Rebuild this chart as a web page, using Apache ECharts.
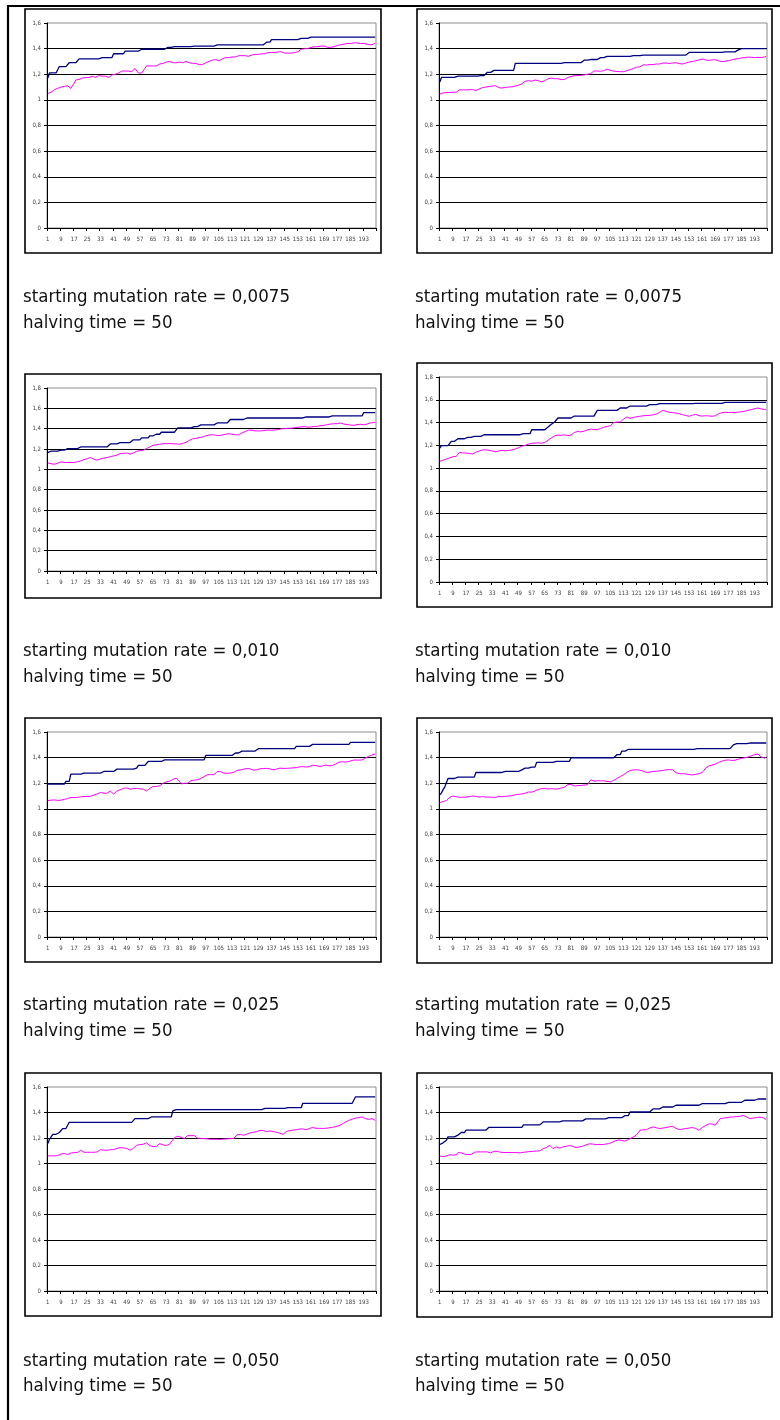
<!DOCTYPE html>
<html>
<head>
<meta charset="utf-8">
<script src="https://cdn.jsdelivr.net/npm/echarts@6/dist/echarts.min.js"></script>
<style>
  html, body { margin: 0; padding: 0; background: #fff; }
  #chart { width: 780px; height: 1420px; }
</style>
</head>
<body>
<div id="chart"></div>
<script>
// Generations 1..200 (category axis)
const generations = Array.from({ length: 200 }, (_, i) => String(i + 1));

// Panel titles
const mutationRates = ['0,0075', '0,0075', '0,010', '0,010', '0,025', '0,025', '0,050', '0,050'];
const halvingTimes = ['50', '50', '50', '50', '50', '50', '50', '50'];
const yAxisMax = [1.6, 1.6, 1.8, 1.8, 1.6, 1.6, 1.6, 1.6];

// Best fitness per generation (navy step line)
const best1 = [
1.17,1.21,1.21,1.21,1.21,1.21,1.21,1.26,1.26,1.26,
1.26,1.26,1.26,1.29,1.29,1.29,1.29,1.29,1.29,1.32,
1.32,1.32,1.32,1.32,1.32,1.32,1.32,1.32,1.32,1.32,
1.32,1.32,1.33,1.33,1.33,1.33,1.33,1.33,1.33,1.33,
1.36,1.36,1.36,1.36,1.36,1.36,1.36,1.38,1.38,1.38,
1.38,1.38,1.38,1.38,1.38,1.38,1.395,1.395,1.395,1.395,
1.395,1.395,1.395,1.395,1.395,1.395,1.395,1.395,1.395,1.395,
1.395,1.395,1.41,1.41,1.41,1.41,1.41,1.415,1.415,1.415,
1.415,1.415,1.415,1.415,1.415,1.415,1.415,1.415,1.415,1.42,
1.42,1.42,1.42,1.42,1.42,1.42,1.42,1.42,1.42,1.42,
1.42,1.42,1.43,1.43,1.43,1.43,1.43,1.43,1.43,1.43,
1.43,1.43,1.43,1.43,1.43,1.43,1.43,1.43,1.43,1.43,
1.43,1.43,1.43,1.43,1.43,1.43,1.43,1.43,1.43,1.43,
1.43,1.43,1.43,1.45,1.45,1.45,1.47,1.47,1.47,1.47,
1.47,1.47,1.47,1.47,1.47,1.47,1.47,1.47,1.47,1.47,
1.47,1.47,1.47,1.47,1.48,1.48,1.48,1.48,1.48,1.49,
1.49,1.49,1.49,1.49,1.49,1.49,1.49,1.49,1.49,1.49,
1.49,1.49,1.49,1.49,1.49,1.49,1.49,1.49,1.49,1.49,
1.49,1.49,1.49,1.49,1.49,1.49,1.49,1.49,1.49,1.49,
1.49,1.49,1.49,1.49,1.49,1.49,1.49,1.49,1.49,1.49];

const best2 = [
1.14,1.175,1.175,1.175,1.175,1.175,1.175,1.175,1.175,1.175,
1.175,1.185,1.185,1.185,1.185,1.185,1.185,1.185,1.185,1.185,
1.185,1.185,1.185,1.185,1.19,1.19,1.19,1.19,1.19,1.215,
1.215,1.215,1.23,1.23,1.23,1.23,1.23,1.23,1.23,1.23,
1.23,1.23,1.23,1.23,1.23,1.23,1.285,1.285,1.285,1.285,
1.285,1.285,1.285,1.285,1.285,1.285,1.285,1.285,1.285,1.285,
1.285,1.285,1.285,1.285,1.285,1.285,1.285,1.285,1.285,1.285,
1.285,1.285,1.285,1.285,1.285,1.285,1.29,1.29,1.29,1.29,
1.29,1.29,1.29,1.29,1.29,1.29,1.29,1.29,1.31,1.31,
1.31,1.31,1.315,1.315,1.315,1.315,1.315,1.315,1.33,1.33,
1.33,1.34,1.34,1.34,1.34,1.34,1.34,1.34,1.34,1.34,
1.34,1.34,1.34,1.34,1.34,1.34,1.34,1.34,1.345,1.345,
1.345,1.345,1.345,1.345,1.35,1.35,1.35,1.35,1.35,1.35,
1.35,1.35,1.35,1.35,1.35,1.35,1.35,1.35,1.35,1.35,
1.35,1.35,1.35,1.35,1.35,1.35,1.35,1.35,1.35,1.35,
1.35,1.35,1.37,1.37,1.37,1.37,1.37,1.37,1.37,1.37,
1.37,1.37,1.37,1.37,1.37,1.37,1.37,1.37,1.37,1.37,
1.37,1.37,1.37,1.375,1.375,1.375,1.375,1.375,1.375,1.375,
1.375,1.39,1.39,1.40,1.40,1.40,1.40,1.40,1.40,1.40,
1.40,1.40,1.40,1.40,1.40,1.40,1.40,1.40,1.40,1.40];

const best3 = [
1.165,1.18,1.18,1.18,1.18,1.18,1.18,1.18,1.188,1.188,
1.188,1.188,1.204,1.204,1.204,1.204,1.204,1.204,1.204,1.22,
1.22,1.22,1.22,1.22,1.22,1.22,1.22,1.22,1.22,1.22,
1.22,1.22,1.22,1.22,1.22,1.22,1.22,1.22,1.25,1.25,
1.25,1.25,1.25,1.25,1.263,1.263,1.263,1.263,1.263,1.263,
1.263,1.263,1.29,1.29,1.29,1.29,1.29,1.31,1.31,1.31,
1.31,1.31,1.33,1.33,1.33,1.33,1.345,1.345,1.345,1.365,
1.365,1.365,1.365,1.365,1.365,1.365,1.365,1.365,1.365,1.407,
1.407,1.407,1.407,1.407,1.407,1.407,1.407,1.407,1.407,1.42,
1.42,1.42,1.42,1.437,1.437,1.437,1.437,1.437,1.437,1.437,
1.437,1.437,1.437,1.456,1.456,1.456,1.456,1.456,1.456,1.456,
1.456,1.49,1.49,1.49,1.49,1.49,1.49,1.49,1.49,1.49,
1.505,1.505,1.505,1.505,1.505,1.505,1.505,1.505,1.505,1.505,
1.505,1.505,1.505,1.505,1.505,1.505,1.505,1.505,1.505,1.505,
1.505,1.505,1.505,1.505,1.505,1.505,1.505,1.505,1.505,1.505,
1.505,1.505,1.505,1.505,1.505,1.505,1.505,1.515,1.515,1.515,
1.515,1.515,1.515,1.515,1.515,1.515,1.515,1.515,1.515,1.515,
1.515,1.515,1.525,1.525,1.525,1.525,1.525,1.525,1.525,1.525,
1.525,1.525,1.525,1.525,1.525,1.525,1.525,1.525,1.525,1.525,
1.525,1.525,1.557,1.557,1.557,1.557,1.557,1.557,1.557,1.557];

const best4 = [
1.176,1.197,1.197,1.197,1.197,1.197,1.197,1.235,1.235,1.235,
1.235,1.258,1.258,1.258,1.258,1.258,1.27,1.27,1.27,1.27,
1.27,1.279,1.279,1.279,1.279,1.279,1.293,1.293,1.293,1.293,
1.293,1.293,1.293,1.293,1.293,1.293,1.293,1.293,1.293,1.293,
1.293,1.293,1.293,1.293,1.293,1.293,1.293,1.293,1.293,1.293,
1.302,1.302,1.302,1.302,1.302,1.302,1.337,1.337,1.337,1.337,
1.337,1.337,1.337,1.337,1.337,1.35,1.36,1.375,1.385,1.395,
1.405,1.41,1.44,1.44,1.44,1.44,1.44,1.44,1.44,1.44,
1.44,1.457,1.457,1.457,1.457,1.457,1.457,1.457,1.457,1.457,
1.457,1.457,1.457,1.457,1.457,1.457,1.507,1.507,1.507,1.507,
1.507,1.507,1.507,1.507,1.507,1.507,1.507,1.507,1.507,1.507,
1.528,1.528,1.528,1.528,1.528,1.528,1.545,1.545,1.545,1.545,
1.545,1.545,1.545,1.545,1.545,1.545,1.545,1.557,1.557,1.557,
1.557,1.557,1.557,1.566,1.566,1.566,1.566,1.566,1.566,1.566,
1.566,1.566,1.566,1.566,1.566,1.566,1.566,1.566,1.566,1.566,
1.566,1.566,1.566,1.566,1.566,1.566,1.569,1.569,1.569,1.569,
1.569,1.569,1.569,1.569,1.569,1.569,1.569,1.569,1.569,1.569,
1.569,1.569,1.569,1.577,1.577,1.577,1.577,1.577,1.577,1.577,
1.577,1.577,1.577,1.577,1.577,1.577,1.577,1.577,1.577,1.577,
1.577,1.577,1.577,1.577,1.577,1.577,1.577,1.577,1.577,1.577];

const best5 = [
1.193,1.193,1.193,1.193,1.193,1.193,1.193,1.193,1.193,1.193,
1.193,1.214,1.214,1.214,1.271,1.271,1.271,1.271,1.271,1.271,
1.271,1.279,1.279,1.279,1.279,1.279,1.279,1.279,1.279,1.279,
1.279,1.279,1.279,1.279,1.292,1.292,1.292,1.292,1.292,1.292,
1.292,1.292,1.31,1.31,1.31,1.31,1.31,1.31,1.31,1.31,
1.31,1.31,1.31,1.318,1.318,1.339,1.339,1.339,1.339,1.339,
1.339,1.37,1.37,1.37,1.37,1.37,1.37,1.37,1.37,1.37,
1.383,1.383,1.383,1.383,1.383,1.383,1.383,1.383,1.383,1.383,
1.383,1.383,1.383,1.383,1.383,1.383,1.383,1.383,1.383,1.383,
1.383,1.383,1.383,1.383,1.383,1.383,1.417,1.417,1.417,1.417,
1.417,1.417,1.417,1.417,1.417,1.417,1.417,1.417,1.417,1.417,
1.417,1.417,1.417,1.417,1.436,1.436,1.436,1.451,1.451,1.451,
1.451,1.451,1.451,1.451,1.451,1.451,1.451,1.451,1.47,1.47,
1.47,1.47,1.47,1.47,1.47,1.47,1.47,1.47,1.47,1.47,
1.47,1.47,1.47,1.47,1.47,1.47,1.47,1.47,1.47,1.47,
1.47,1.488,1.488,1.488,1.488,1.488,1.488,1.488,1.488,1.488,
1.488,1.503,1.503,1.503,1.503,1.503,1.503,1.503,1.503,1.503,
1.503,1.503,1.503,1.503,1.503,1.503,1.503,1.503,1.503,1.503,
1.503,1.503,1.503,1.503,1.519,1.519,1.519,1.519,1.519,1.519,
1.519,1.519,1.519,1.519,1.519,1.519,1.519,1.519,1.519,1.519];

const best6 = [
1.109,1.125,1.15,1.17,1.18,1.237,1.237,1.237,1.237,1.237,
1.248,1.248,1.248,1.248,1.248,1.248,1.248,1.248,1.248,1.248,
1.248,1.248,1.284,1.284,1.284,1.284,1.284,1.284,1.284,1.284,
1.284,1.284,1.284,1.284,1.284,1.284,1.284,1.284,1.284,1.292,
1.292,1.292,1.292,1.292,1.292,1.292,1.292,1.292,1.292,1.305,
1.305,1.318,1.318,1.318,1.318,1.326,1.326,1.326,1.326,1.363,
1.363,1.363,1.363,1.363,1.363,1.363,1.363,1.363,1.363,1.363,
1.37,1.37,1.37,1.37,1.37,1.37,1.37,1.37,1.37,1.37,
1.399,1.399,1.399,1.399,1.399,1.399,1.399,1.399,1.399,1.399,
1.399,1.399,1.399,1.399,1.399,1.399,1.399,1.399,1.399,1.399,
1.399,1.399,1.399,1.399,1.399,1.399,1.399,1.399,1.423,1.423,
1.423,1.451,1.451,1.451,1.451,1.465,1.465,1.465,1.465,1.465,
1.465,1.465,1.465,1.465,1.465,1.465,1.465,1.465,1.465,1.465,
1.465,1.465,1.465,1.465,1.465,1.465,1.465,1.465,1.465,1.465,
1.465,1.465,1.465,1.465,1.465,1.465,1.465,1.465,1.465,1.465,
1.465,1.465,1.465,1.465,1.465,1.465,1.47,1.47,1.47,1.47,
1.47,1.47,1.47,1.47,1.47,1.47,1.47,1.47,1.47,1.47,
1.47,1.47,1.47,1.47,1.47,1.47,1.47,1.47,1.47,1.50,
1.509,1.509,1.509,1.509,1.509,1.509,1.509,1.509,1.509,1.514,
1.514,1.514,1.514,1.514,1.514,1.514,1.514,1.514,1.514,1.514];

const best7 = [
1.156,1.19,1.203,1.229,1.229,1.229,1.229,1.243,1.243,1.274,
1.274,1.274,1.274,1.323,1.323,1.323,1.323,1.323,1.323,1.323,
1.323,1.323,1.323,1.323,1.323,1.323,1.323,1.323,1.323,1.323,
1.323,1.323,1.323,1.323,1.323,1.323,1.323,1.323,1.323,1.323,
1.323,1.323,1.323,1.323,1.323,1.323,1.323,1.323,1.323,1.323,
1.323,1.323,1.323,1.352,1.352,1.352,1.352,1.352,1.352,1.352,
1.352,1.352,1.365,1.365,1.365,1.365,1.365,1.365,1.365,1.365,
1.365,1.365,1.365,1.365,1.365,1.365,1.412,1.412,1.423,1.423,
1.423,1.423,1.423,1.423,1.423,1.423,1.423,1.423,1.423,1.423,
1.423,1.423,1.423,1.423,1.423,1.423,1.423,1.423,1.423,1.423,
1.423,1.423,1.423,1.423,1.423,1.423,1.423,1.423,1.423,1.423,
1.423,1.423,1.423,1.423,1.423,1.423,1.423,1.423,1.423,1.423,
1.423,1.423,1.423,1.423,1.423,1.423,1.423,1.423,1.423,1.423,
1.423,1.433,1.433,1.433,1.433,1.433,1.433,1.433,1.433,1.433,
1.433,1.433,1.433,1.433,1.433,1.433,1.438,1.438,1.438,1.438,
1.438,1.438,1.438,1.438,1.438,1.472,1.472,1.472,1.472,1.472,
1.472,1.472,1.472,1.472,1.472,1.472,1.472,1.472,1.472,1.472,
1.472,1.472,1.472,1.472,1.472,1.472,1.472,1.472,1.472,1.472,
1.472,1.472,1.472,1.472,1.472,1.472,1.472,1.522,1.522,1.522,
1.522,1.522,1.522,1.522,1.522,1.522,1.522,1.522,1.522,1.522];

const best8 = [
1.149,1.155,1.162,1.17,1.182,1.209,1.209,1.209,1.209,1.209,
1.222,1.222,1.222,1.243,1.243,1.243,1.261,1.261,1.261,1.261,
1.261,1.261,1.261,1.261,1.261,1.261,1.261,1.261,1.261,1.261,
1.284,1.284,1.284,1.284,1.284,1.284,1.284,1.284,1.284,1.284,
1.284,1.284,1.284,1.284,1.284,1.284,1.284,1.284,1.284,1.284,
1.284,1.303,1.303,1.303,1.303,1.303,1.303,1.303,1.303,1.303,
1.303,1.303,1.303,1.326,1.326,1.326,1.326,1.326,1.326,1.326,
1.326,1.326,1.326,1.326,1.326,1.334,1.334,1.334,1.334,1.334,
1.334,1.334,1.334,1.334,1.334,1.334,1.334,1.334,1.334,1.35,
1.35,1.35,1.35,1.35,1.35,1.35,1.35,1.35,1.35,1.35,
1.35,1.35,1.36,1.36,1.36,1.36,1.36,1.36,1.36,1.36,
1.36,1.36,1.36,1.376,1.376,1.376,1.404,1.404,1.404,1.404,
1.404,1.404,1.404,1.404,1.404,1.404,1.404,1.404,1.404,1.404,
1.428,1.428,1.428,1.428,1.428,1.428,1.443,1.443,1.443,1.443,
1.443,1.443,1.443,1.443,1.457,1.457,1.457,1.457,1.457,1.457,
1.457,1.457,1.457,1.457,1.457,1.457,1.457,1.457,1.457,1.47,
1.47,1.47,1.47,1.47,1.47,1.47,1.47,1.47,1.47,1.47,
1.47,1.47,1.47,1.47,1.47,1.47,1.48,1.48,1.48,1.48,
1.48,1.48,1.48,1.48,1.48,1.48,1.496,1.496,1.496,1.496,
1.496,1.496,1.496,1.506,1.506,1.506,1.506,1.506,1.506,1.506];

// Average fitness per generation (magenta line)
const avg1 = [
1.05,1.055,1.06,1.07,1.08,1.085,1.09,1.095,1.10,1.105,
1.105,1.11,1.11,1.10,1.09,1.10,1.13,1.155,1.15,1.16,
1.165,1.17,1.165,1.175,1.18,1.175,1.18,1.185,1.18,1.175,
1.185,1.19,1.19,1.185,1.18,1.185,1.18,1.175,1.19,1.195,
1.20,1.20,1.205,1.21,1.22,1.225,1.22,1.225,1.23,1.225,
1.23,1.22,1.23,1.245,1.235,1.21,1.215,1.21,1.22,1.245,
1.265,1.26,1.265,1.26,1.265,1.27,1.265,1.275,1.28,1.28,
1.285,1.29,1.295,1.295,1.30,1.295,1.29,1.285,1.29,1.29,
1.295,1.295,1.29,1.295,1.30,1.295,1.29,1.29,1.285,1.29,
1.285,1.28,1.275,1.27,1.275,1.28,1.29,1.30,1.30,1.305,
1.31,1.31,1.315,1.31,1.305,1.32,1.32,1.325,1.33,1.335,
1.33,1.325,1.335,1.34,1.335,1.34,1.345,1.34,1.345,1.35,
1.345,1.345,1.34,1.345,1.35,1.35,1.355,1.36,1.355,1.365,
1.36,1.365,1.36,1.365,1.37,1.365,1.37,1.375,1.37,1.375,
1.375,1.37,1.375,1.37,1.365,1.36,1.365,1.36,1.365,1.37,
1.37,1.365,1.375,1.385,1.395,1.395,1.40,1.40,1.40,1.405,
1.41,1.405,1.415,1.41,1.415,1.42,1.42,1.415,1.42,1.41,
1.41,1.405,1.41,1.415,1.415,1.42,1.425,1.43,1.43,1.435,
1.435,1.44,1.44,1.435,1.44,1.445,1.445,1.44,1.445,1.44,
1.44,1.445,1.44,1.44,1.435,1.435,1.43,1.425,1.435,1.445];

const avg2 = [
1.045,1.05,1.055,1.055,1.057,1.06,1.058,1.06,1.06,1.062,
1.06,1.065,1.078,1.075,1.078,1.08,1.078,1.08,1.08,1.082,
1.08,1.078,1.073,1.08,1.085,1.09,1.096,1.095,1.10,1.098,
1.104,1.105,1.108,1.11,1.11,1.10,1.095,1.09,1.092,1.095,
1.098,1.10,1.10,1.10,1.102,1.105,1.108,1.11,1.115,1.12,
1.125,1.13,1.145,1.156,1.15,1.143,1.145,1.15,1.155,1.156,
1.15,1.145,1.14,1.14,1.15,1.16,1.165,1.17,1.17,1.168,
1.165,1.164,1.165,1.16,1.158,1.156,1.16,1.168,1.175,1.18,
1.183,1.185,1.188,1.19,1.19,1.188,1.192,1.195,1.195,1.198,
1.20,1.20,1.205,1.215,1.226,1.222,1.225,1.226,1.224,1.226,
1.228,1.235,1.24,1.236,1.23,1.226,1.224,1.222,1.222,1.22,
1.22,1.218,1.22,1.222,1.228,1.232,1.235,1.24,1.245,1.25,
1.255,1.262,1.258,1.268,1.274,1.27,1.272,1.276,1.276,1.278,
1.275,1.278,1.28,1.282,1.28,1.284,1.287,1.285,1.288,1.285,
1.284,1.286,1.288,1.29,1.29,1.286,1.283,1.28,1.28,1.282,
1.288,1.292,1.295,1.298,1.30,1.302,1.305,1.31,1.312,1.315,
1.318,1.318,1.312,1.308,1.308,1.31,1.312,1.315,1.313,1.31,
1.305,1.30,1.298,1.30,1.302,1.304,1.306,1.308,1.312,1.315,
1.318,1.32,1.322,1.325,1.328,1.33,1.33,1.332,1.334,1.334,
1.332,1.33,1.33,1.335,1.332,1.33,1.33,1.328,1.335,1.34];

const avg3 = [
1.063,1.06,1.055,1.05,1.05,1.055,1.06,1.068,1.073,1.07,
1.068,1.07,1.067,1.07,1.068,1.066,1.067,1.07,1.075,1.08,
1.083,1.088,1.095,1.10,1.106,1.11,1.116,1.11,1.10,1.095,
1.09,1.095,1.103,1.105,1.11,1.112,1.116,1.12,1.125,1.128,
1.132,1.13,1.14,1.15,1.155,1.155,1.158,1.16,1.16,1.155,
1.15,1.145,1.16,1.17,1.178,1.18,1.183,1.185,1.188,1.195,
1.204,1.212,1.22,1.228,1.237,1.24,1.242,1.245,1.247,1.25,
1.252,1.25,1.253,1.255,1.253,1.25,1.252,1.253,1.25,1.248,
1.247,1.25,1.255,1.262,1.266,1.275,1.285,1.292,1.30,1.302,
1.305,1.308,1.312,1.315,1.318,1.322,1.33,1.335,1.338,1.34,
1.34,1.338,1.335,1.332,1.332,1.335,1.338,1.342,1.345,1.348,
1.35,1.348,1.345,1.35,1.34,1.338,1.34,1.35,1.358,1.365,
1.372,1.378,1.385,1.39,1.385,1.38,1.378,1.375,1.378,1.38,
1.378,1.38,1.384,1.382,1.386,1.38,1.384,1.382,1.388,1.385,
1.39,1.395,1.40,1.405,1.40,1.402,1.404,1.406,1.404,1.408,
1.41,1.412,1.413,1.415,1.418,1.417,1.42,1.418,1.415,1.418,
1.417,1.42,1.422,1.42,1.423,1.426,1.43,1.432,1.433,1.436,
1.44,1.442,1.446,1.445,1.448,1.45,1.45,1.452,1.456,1.45,
1.445,1.442,1.44,1.438,1.435,1.434,1.433,1.436,1.44,1.442,
1.443,1.44,1.438,1.443,1.445,1.448,1.456,1.458,1.46,1.463];

const avg4 = [
1.06,1.065,1.07,1.075,1.08,1.085,1.09,1.095,1.10,1.103,
1.103,1.12,1.138,1.135,1.133,1.135,1.133,1.132,1.128,1.125,
1.124,1.13,1.14,1.147,1.15,1.155,1.16,1.162,1.16,1.158,
1.156,1.156,1.15,1.146,1.144,1.148,1.152,1.156,1.155,1.153,
1.152,1.153,1.155,1.158,1.16,1.162,1.168,1.174,1.18,1.186,
1.192,1.197,1.2,1.205,1.21,1.215,1.218,1.218,1.22,1.22,
1.222,1.22,1.218,1.22,1.225,1.235,1.245,1.255,1.265,1.275,
1.283,1.288,1.29,1.29,1.288,1.29,1.292,1.288,1.285,1.285,
1.29,1.30,1.312,1.323,1.322,1.32,1.318,1.32,1.325,1.33,
1.335,1.34,1.343,1.34,1.338,1.337,1.337,1.342,1.348,1.355,
1.358,1.362,1.366,1.37,1.372,1.385,1.40,1.402,1.404,1.405,
1.405,1.415,1.43,1.44,1.449,1.442,1.437,1.44,1.445,1.448,
1.451,1.452,1.455,1.458,1.46,1.46,1.462,1.46,1.463,1.465,
1.468,1.47,1.475,1.48,1.49,1.50,1.507,1.502,1.498,1.494,
1.49,1.488,1.487,1.485,1.484,1.48,1.477,1.473,1.469,1.466,
1.462,1.458,1.455,1.46,1.465,1.47,1.472,1.468,1.46,1.455,
1.457,1.46,1.46,1.46,1.458,1.457,1.455,1.455,1.46,1.47,
1.478,1.484,1.486,1.488,1.49,1.49,1.488,1.49,1.49,1.49,
1.488,1.49,1.492,1.493,1.495,1.498,1.50,1.504,1.507,1.51,
1.515,1.519,1.522,1.53,1.528,1.524,1.519,1.516,1.515,1.513];

const avg5 = [
1.065,1.066,1.068,1.07,1.07,1.068,1.066,1.068,1.068,1.07,
1.074,1.076,1.08,1.085,1.09,1.09,1.088,1.09,1.09,1.092,
1.094,1.095,1.096,1.095,1.097,1.098,1.099,1.102,1.108,1.112,
1.117,1.122,1.128,1.125,1.122,1.12,1.122,1.13,1.14,1.128,
1.115,1.125,1.14,1.145,1.149,1.155,1.16,1.167,1.164,1.158,
1.154,1.156,1.158,1.16,1.16,1.158,1.156,1.155,1.154,1.145,
1.14,1.15,1.16,1.17,1.175,1.176,1.175,1.178,1.18,1.19,
1.20,1.209,1.21,1.212,1.216,1.219,1.23,1.24,1.24,1.235,
1.215,1.195,1.198,1.20,1.20,1.20,1.21,1.22,1.227,1.225,
1.222,1.227,1.232,1.237,1.245,1.252,1.26,1.266,1.265,1.268,
1.266,1.266,1.28,1.292,1.30,1.29,1.282,1.279,1.28,1.278,
1.279,1.28,1.279,1.285,1.292,1.30,1.302,1.305,1.308,1.31,
1.312,1.315,1.316,1.312,1.306,1.302,1.302,1.305,1.31,1.313,
1.313,1.315,1.316,1.316,1.316,1.312,1.308,1.305,1.305,1.31,
1.315,1.318,1.318,1.316,1.315,1.316,1.316,1.318,1.318,1.32,
1.32,1.322,1.325,1.328,1.331,1.33,1.328,1.326,1.326,1.33,
1.335,1.34,1.342,1.338,1.334,1.331,1.331,1.335,1.34,1.342,
1.342,1.336,1.331,1.338,1.344,1.35,1.358,1.365,1.37,1.368,
1.366,1.365,1.365,1.37,1.376,1.378,1.38,1.382,1.383,1.38,
1.376,1.382,1.389,1.396,1.404,1.41,1.415,1.42,1.425,1.428];

const avg6 = [
1.049,1.052,1.057,1.06,1.065,1.075,1.091,1.096,1.10,1.101,
1.095,1.09,1.09,1.092,1.091,1.09,1.092,1.094,1.096,1.095,
1.10,1.104,1.098,1.091,1.092,1.095,1.096,1.096,1.092,1.088,
1.092,1.096,1.09,1.083,1.09,1.101,1.098,1.096,1.095,1.096,
1.098,1.10,1.10,1.101,1.104,1.107,1.11,1.112,1.114,1.115,
1.116,1.117,1.122,1.128,1.132,1.135,1.13,1.128,1.14,1.149,
1.152,1.155,1.158,1.162,1.16,1.158,1.155,1.154,1.158,1.162,
1.155,1.149,1.155,1.162,1.163,1.164,1.17,1.18,1.19,1.20,
1.19,1.18,1.178,1.18,1.182,1.182,1.182,1.184,1.186,1.188,
1.188,1.20,1.227,1.222,1.216,1.218,1.22,1.218,1.219,1.219,
1.219,1.216,1.214,1.212,1.211,1.215,1.222,1.23,1.237,1.245,
1.252,1.26,1.266,1.275,1.284,1.292,1.30,1.302,1.304,1.305,
1.305,1.304,1.302,1.30,1.295,1.29,1.284,1.286,1.288,1.29,
1.292,1.293,1.294,1.296,1.297,1.298,1.30,1.302,1.305,1.305,
1.306,1.305,1.305,1.295,1.282,1.276,1.275,1.276,1.275,1.274,
1.272,1.27,1.268,1.266,1.265,1.268,1.27,1.271,1.275,1.28,
1.284,1.30,1.318,1.331,1.335,1.338,1.342,1.344,1.35,1.357,
1.362,1.368,1.372,1.376,1.38,1.383,1.382,1.38,1.378,1.376,
1.38,1.385,1.388,1.391,1.394,1.396,1.40,1.403,1.404,1.408,
1.415,1.42,1.423,1.426,1.428,1.415,1.405,1.398,1.396,1.404];

const avg7 = [
1.06,1.06,1.06,1.06,1.06,1.06,1.062,1.065,1.075,1.083,
1.078,1.072,1.07,1.076,1.082,1.086,1.085,1.084,1.086,1.095,
1.104,1.095,1.088,1.087,1.088,1.09,1.088,1.087,1.088,1.09,
1.091,1.10,1.109,1.106,1.104,1.105,1.104,1.106,1.108,1.107,
1.109,1.112,1.118,1.122,1.125,1.124,1.122,1.12,1.118,1.11,
1.104,1.11,1.12,1.132,1.143,1.145,1.148,1.15,1.151,1.155,
1.162,1.155,1.14,1.13,1.132,1.134,1.135,1.145,1.156,1.15,
1.146,1.142,1.141,1.146,1.151,1.165,1.185,1.203,1.21,1.214,
1.21,1.205,1.2,1.196,1.21,1.219,1.22,1.218,1.22,1.219,
1.21,1.2,1.196,1.195,1.194,1.195,1.193,1.193,1.192,1.19,
1.19,1.19,1.191,1.19,1.188,1.188,1.19,1.192,1.19,1.193,
1.194,1.195,1.196,1.196,1.21,1.225,1.232,1.228,1.224,1.222,
1.225,1.23,1.235,1.24,1.243,1.246,1.248,1.25,1.255,1.26,
1.266,1.258,1.248,1.25,1.253,1.256,1.254,1.25,1.248,1.245,
1.242,1.238,1.234,1.229,1.24,1.25,1.256,1.258,1.26,1.262,
1.263,1.265,1.268,1.27,1.274,1.272,1.268,1.265,1.263,1.275,
1.287,1.282,1.278,1.276,1.274,1.276,1.278,1.275,1.274,1.276,
1.278,1.28,1.282,1.284,1.288,1.29,1.292,1.296,1.302,1.31,
1.318,1.325,1.332,1.338,1.344,1.348,1.352,1.356,1.358,1.36,
1.362,1.365,1.36,1.352,1.344,1.346,1.35,1.352,1.345,1.339];

const avg8 = [
1.06,1.056,1.052,1.055,1.06,1.066,1.068,1.067,1.066,1.065,
1.068,1.085,1.091,1.084,1.078,1.074,1.07,1.07,1.071,1.07,
1.08,1.088,1.09,1.091,1.092,1.091,1.09,1.091,1.092,1.091,
1.087,1.083,1.09,1.096,1.101,1.095,1.09,1.088,1.087,1.086,
1.086,1.086,1.087,1.086,1.085,1.086,1.087,1.085,1.084,1.083,
1.085,1.088,1.09,1.091,1.093,1.094,1.095,1.096,1.097,1.098,
1.099,1.099,1.108,1.117,1.12,1.125,1.135,1.143,1.13,1.117,
1.122,1.13,1.125,1.12,1.125,1.13,1.132,1.135,1.138,1.141,
1.138,1.134,1.13,1.125,1.128,1.13,1.132,1.135,1.14,1.145,
1.15,1.154,1.156,1.153,1.15,1.148,1.149,1.15,1.149,1.148,
1.149,1.152,1.154,1.156,1.159,1.165,1.172,1.178,1.182,1.185,
1.188,1.18,1.172,1.176,1.182,1.188,1.196,1.202,1.208,1.215,
1.222,1.24,1.261,1.262,1.264,1.265,1.266,1.272,1.278,1.283,
1.287,1.284,1.28,1.276,1.274,1.276,1.278,1.28,1.282,1.285,
1.288,1.29,1.292,1.285,1.276,1.268,1.266,1.268,1.27,1.272,
1.274,1.276,1.278,1.28,1.282,1.282,1.275,1.268,1.261,1.27,
1.282,1.292,1.298,1.304,1.31,1.313,1.31,1.305,1.30,1.318,
1.335,1.352,1.354,1.356,1.358,1.36,1.362,1.364,1.365,1.365,
1.366,1.368,1.37,1.37,1.374,1.378,1.372,1.365,1.358,1.352,
1.354,1.356,1.358,1.36,1.362,1.364,1.365,1.36,1.352,1.344];

const bestSeries = [best1, best2, best3, best4, best5, best6, best7, best8];
const avgSeries = [avg1, avg2, avg3, avg4, avg5, avg6, avg7, avg8];

// Page layout: outer box of each chart and its plot area [x, y, w, h]
const chartBoxes = [
  [25, 9, 356, 244], [417, 9, 355, 244],
  [25, 374, 356, 224], [417, 363, 355, 244],
  [25, 718, 356, 244], [417, 718, 355, 245],
  [25, 1073, 356, 243], [417, 1073, 355, 244]
];
const plotAreas = [
  [47, 23, 329, 205], [439, 23, 328, 205],
  [47, 388, 329, 183], [439, 377, 328, 205],
  [47, 732, 329, 205], [439, 732, 328, 205],
  [47, 1087, 329, 204], [439, 1087, 328, 204]
];
const captionY = [[297, 323], [297, 323], [651, 677], [651, 677], [1005, 1031], [1005, 1031], [1361, 1386], [1361, 1386]];
const captionX = [23, 415, 23, 415, 23, 415, 23, 415];

const labelFont = '"DejaVu Sans Condensed", "DejaVu Sans", sans-serif';
const captionFont = '18.5px "DejaVu Sans Condensed", "Liberation Sans Narrow", "DejaVu Sans", sans-serif';

const commaNum = v => (v === 0 ? '0' : String(+v.toFixed(1)).replace('.', ','));

const grid = [], xAxis = [], yAxis = [], series = [], graphic = [];

plotAreas.forEach((p, k) => {
  grid.push({
    left: p[0], top: p[1], width: p[2], height: p[3],
    containLabel: false, outerBoundsMode: 'none',
    show: true, borderColor: '#8c8c8c', borderWidth: 1, backgroundColor: 'transparent'
  });
  xAxis.push({
    type: 'category', gridIndex: k, data: generations, boundaryGap: true,
    axisLine: { show: true, lineStyle: { color: '#000', width: 1 } },
    axisTick: { show: true, interval: 7, length: 3, lineStyle: { color: '#000', width: 1 } },
    axisLabel: { interval: 7, fontSize: 6, fontFamily: labelFont, color: '#404040', margin: 8, hideOverlap: false },
    splitLine: { show: false }
  });
  yAxis.push({
    type: 'value', gridIndex: k, min: 0, max: yAxisMax[k], interval: 0.2,
    axisLine: { show: true, lineStyle: { color: '#000', width: 1 } },
    axisTick: { show: true, length: 3, lineStyle: { color: '#000', width: 1 } },
    axisLabel: { fontSize: 6, fontFamily: labelFont, color: '#404040', margin: 6, formatter: commaNum },
    splitLine: { show: true, showMinLine: false, showMaxLine: false, lineStyle: { color: '#000', width: 1 } }
  });
  series.push({
    type: 'line', xAxisIndex: k, yAxisIndex: k, data: avgSeries[k],
    symbol: 'none', smooth: false, z: 3,
    lineStyle: { color: '#ff00ff', width: 1 }
  });
  series.push({
    type: 'line', xAxisIndex: k, yAxisIndex: k, data: bestSeries[k],
    symbol: 'none', smooth: false, z: 4,
    lineStyle: { color: '#000080', width: 1.3 }
  });

  const b = chartBoxes[k];
  graphic.push({
    type: 'rect', silent: true,
    shape: { x: b[0], y: b[1], width: b[2], height: b[3] },
    style: { fill: null, stroke: '#000', lineWidth: 1.6 }
  });
  graphic.push({
    type: 'text', silent: true, x: captionX[k], y: captionY[k][0],
    style: { text: 'starting mutation rate = ' + mutationRates[k], font: captionFont, fill: '#111', verticalAlign: 'middle' }
  });
  graphic.push({
    type: 'text', silent: true, x: captionX[k], y: captionY[k][1],
    style: { text: 'halving time = ' + halvingTimes[k], font: captionFont, fill: '#111', verticalAlign: 'middle' }
  });
});

// Page frame: top rule and left rule
graphic.push({ type: 'line', silent: true, shape: { x1: 7, y1: 6, x2: 780, y2: 6 }, style: { stroke: '#000', lineWidth: 2.2 } });
graphic.push({ type: 'line', silent: true, shape: { x1: 8, y1: 5, x2: 8, y2: 1420 }, style: { stroke: '#000', lineWidth: 2.2 } });

const chart = echarts.init(document.getElementById('chart'), null, { renderer: 'canvas', width: 780, height: 1420 });
chart.setOption({
  animation: false,
  backgroundColor: '#fff',
  grid, xAxis, yAxis, series, graphic
});
</script>
</body>
</html>
